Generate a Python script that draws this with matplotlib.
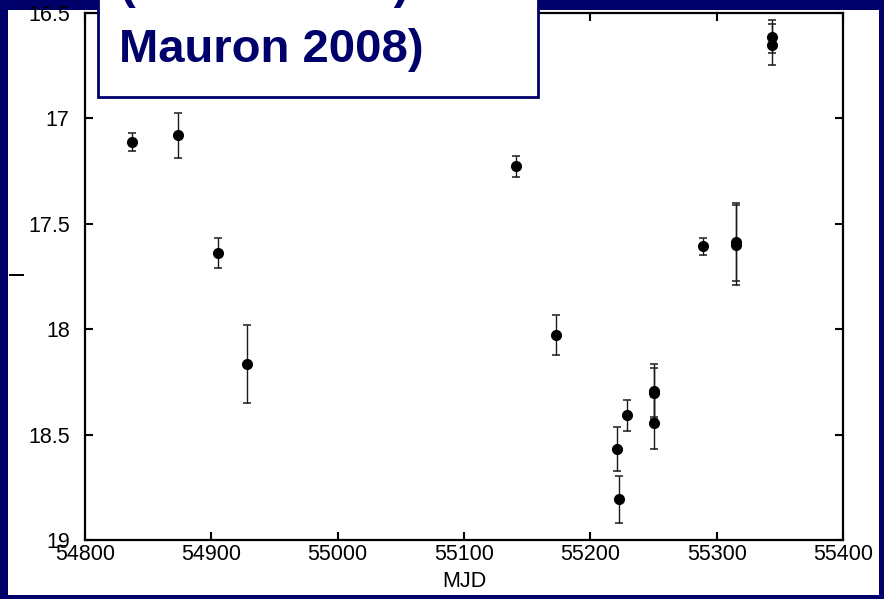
import matplotlib
matplotlib.use("Agg")
import matplotlib.pyplot as plt
from matplotlib.patches import Rectangle

# light curve points (MJD, magnitude, 1-sigma error)
mjd = [54837, 54874, 54905, 54928, 55141, 55173, 55221, 55223, 55229,
       55250, 55250, 55250, 55289, 55315, 55315, 55344, 55344]
mag = [17.112, 17.080, 17.638, 18.165, 17.226, 18.028, 18.568, 18.807, 18.409,
       18.291, 18.304, 18.443, 17.607, 17.587, 17.599, 16.612, 16.650]
err = [0.043, 0.106, 0.072, 0.184, 0.050, 0.096, 0.104, 0.110, 0.072,
       0.126, 0.120, 0.123, 0.041, 0.186, 0.189, 0.078, 0.099]

x_ticks = [54800, 54900, 55000, 55100, 55200, 55300, 55400]
y_ticks = [16.5, 17, 17.5, 18, 18.5, 19]
y_ticklabels = ["16.5", "17", "17.5", "18", "18.5", "19"]

title_lines = ["(Leão 2006b)", "Mauron 2008)"]

NAVY = "#00006a"
W, H = 884, 599

plt.rcParams["font.family"] = ["Liberation Sans", "DejaVu Sans"]

fig = plt.figure(figsize=(W / 100, H / 100), dpi=100)
fig.patch.set_facecolor(NAVY)

# white slide panel (behind the axes)
fig.patches.append(Rectangle((8 / W, 1 - 595 / H), (879 - 8) / W, (595 - 10) / H,
                             transform=fig.transFigure, facecolor="white",
                             edgecolor="none", zorder=-10))

ax = fig.add_axes([85 / W, 1 - 540 / H, (843 - 85) / W, (540 - 13) / H])
ax.set_zorder(1)
ax.errorbar(mjd, mag, yerr=err, fmt="o", color="black", ms=7,
            ecolor="#1a1a1a", elinewidth=1.0, capsize=3.2, capthick=1.1)

ax.set_xlim(54800, 55400)
ax.set_ylim(19, 16.5)
ax.set_xticks(x_ticks)
ax.set_xticklabels([str(t) for t in x_ticks])
ax.set_yticks(y_ticks)
ax.set_yticklabels(y_ticklabels)
ax.tick_params(direction="in", length=6, width=1.5, labelsize=15.5,
               top=True, right=True)
ax.tick_params(axis="y", pad=11)
ax.tick_params(axis="x", pad=3)
for sp in ax.spines.values():
    sp.set_linewidth(1.6)

ax.set_xlabel("MJD", fontsize=15.5)
ax.xaxis.set_label_coords(0.5, -0.058)
ax.set_ylabel("I", fontsize=15.5)
ax.yaxis.set_label_coords(-0.075, 0.508)

# title box at top of the slide, partly cut off
box = Rectangle((98 / W, 1 - 97 / H), (538 - 98) / W, 0.2,
                transform=fig.transFigure, facecolor="white",
                edgecolor=NAVY, linewidth=2, zorder=5)
fig.patches.append(box)
fig.text(120 / W, 1 + 2 / H, title_lines[0], fontsize=34, fontweight="bold",
         color=NAVY, va="baseline", ha="left", zorder=6)
fig.text(119 / W, 1 - 62 / H, title_lines[1], fontsize=34, fontweight="bold",
         color=NAVY, va="baseline", ha="left", zorder=6)

fig.savefig("out.png", dpi=100, facecolor=fig.get_facecolor())
